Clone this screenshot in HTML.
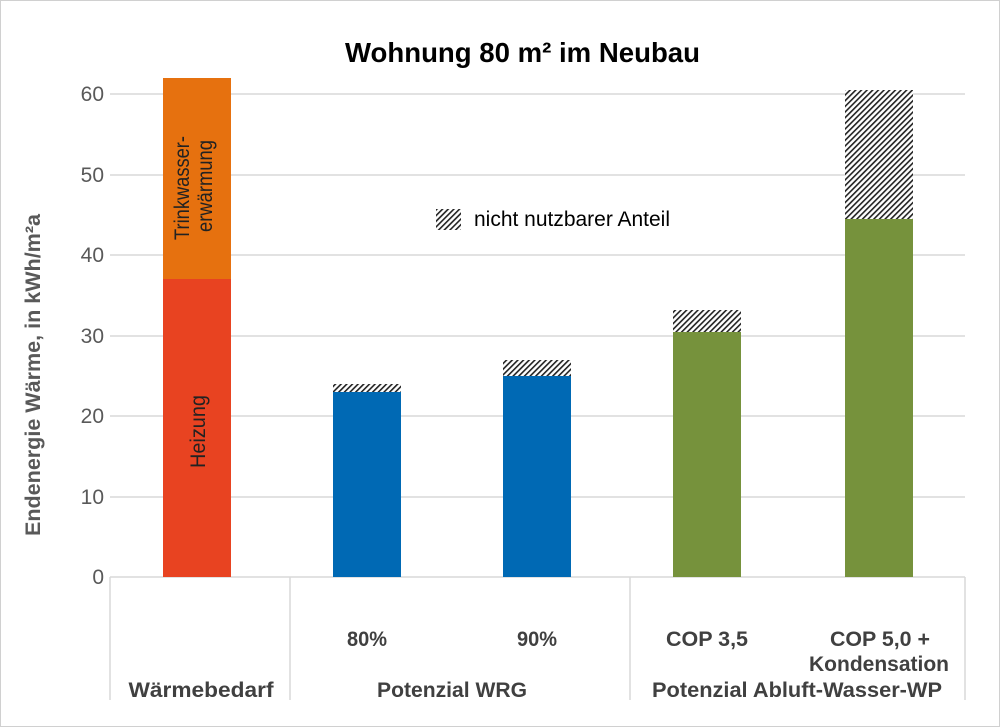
<!DOCTYPE html>
<html><head><meta charset="utf-8"><style>
html,body{margin:0;padding:0;background:#fff;}
svg{display:block;font-family:"Liberation Sans",sans-serif;}
</style></head><body>
<svg width="1000" height="727" viewBox="0 0 1000 727" xmlns="http://www.w3.org/2000/svg">
<defs>
<pattern id="h" patternUnits="userSpaceOnUse" width="4" height="4" patternTransform="rotate(45)">
<rect width="4" height="4" fill="#fff"/>
<rect x="0" y="0" width="1.6" height="4" fill="#222"/>
</pattern>
</defs>
<rect x="0.5" y="0.5" width="999" height="726" fill="#fff" stroke="#d0d0d0"/>
<text x="345" y="62" font-size="28" font-weight="bold" fill="#000" textLength="355" lengthAdjust="spacingAndGlyphs">Wohnung 80 m² im Neubau</text>
<g stroke="#d9d9d9" stroke-width="1.5">
<line x1="110" y1="94" x2="965" y2="94"/>
<line x1="110" y1="175" x2="965" y2="175"/>
<line x1="110" y1="255" x2="965" y2="255"/>
<line x1="110" y1="336" x2="965" y2="336"/>
<line x1="110" y1="416" x2="965" y2="416"/>
<line x1="110" y1="497" x2="965" y2="497"/>
<line x1="110" y1="577" x2="965" y2="577"/>
<line x1="110" y1="577" x2="110" y2="700"/>
<line x1="290" y1="577" x2="290" y2="700"/>
<line x1="630" y1="577" x2="630" y2="700"/>
<line x1="965" y1="577" x2="965" y2="700"/>
</g>
<g font-size="21" fill="#595959" text-anchor="end">
<text x="104" y="101">60</text><text x="104" y="182">50</text><text x="104" y="262">40</text>
<text x="104" y="343">30</text><text x="104" y="423">20</text><text x="104" y="504">10</text><text x="104" y="584">0</text>
</g>
<text transform="translate(40 536) rotate(-90)" font-size="21" font-weight="bold" fill="#595959" textLength="322" lengthAdjust="spacingAndGlyphs">Endenergie Wärme, in kWh/m²a</text>
<!-- bars -->
<rect x="163" y="279" width="68" height="298" fill="#e84321"/>
<rect x="163" y="78" width="68" height="201" fill="#e6710f"/>
<text transform="translate(205 468) rotate(-90)" font-size="21" fill="#222" textLength="73" lengthAdjust="spacingAndGlyphs">Heizung</text>
<text transform="translate(189 240) rotate(-90)" font-size="21" fill="#222" textLength="104" lengthAdjust="spacingAndGlyphs">Trinkwasser-</text>
<text transform="translate(212 232) rotate(-90)" font-size="21" fill="#222" textLength="92" lengthAdjust="spacingAndGlyphs">erwärmung</text>
<rect x="333" y="392" width="68" height="185" fill="#0069b4"/>
<rect x="333" y="384" width="68" height="8" fill="url(#h)"/>
<rect x="503" y="376" width="68" height="201" fill="#0069b4"/>
<rect x="503" y="360" width="68" height="16" fill="url(#h)"/>
<rect x="673" y="332" width="68" height="245" fill="#76923c"/>
<rect x="673" y="310" width="68" height="22" fill="url(#h)"/>
<rect x="845" y="219" width="68" height="358" fill="#76923c"/>
<rect x="845" y="90" width="68" height="129" fill="url(#h)"/>
<!-- legend -->
<rect x="436" y="209" width="25" height="21" fill="url(#h)"/>
<text x="474" y="226" font-size="21" fill="#000" textLength="196" lengthAdjust="spacingAndGlyphs">nicht nutzbarer Anteil</text>
<g font-size="21" font-weight="bold" fill="#404040" text-anchor="middle">
<text x="367" y="646" textLength="40" lengthAdjust="spacingAndGlyphs">80%</text>
<text x="537" y="646" textLength="40" lengthAdjust="spacingAndGlyphs">90%</text>
<text x="707" y="646" textLength="82" lengthAdjust="spacingAndGlyphs">COP 3,5</text>
<text x="880" y="646" textLength="100" lengthAdjust="spacingAndGlyphs">COP 5,0 +</text>
<text x="879" y="671" textLength="140" lengthAdjust="spacingAndGlyphs">Kondensation</text>
<text x="201" y="697" textLength="145" lengthAdjust="spacingAndGlyphs">Wärmebedarf</text>
<text x="452" y="697" textLength="150" lengthAdjust="spacingAndGlyphs">Potenzial WRG</text>
<text x="797" y="697" textLength="290" lengthAdjust="spacingAndGlyphs">Potenzial Abluft-Wasser-WP</text>
</g>
</svg>
</body></html>
